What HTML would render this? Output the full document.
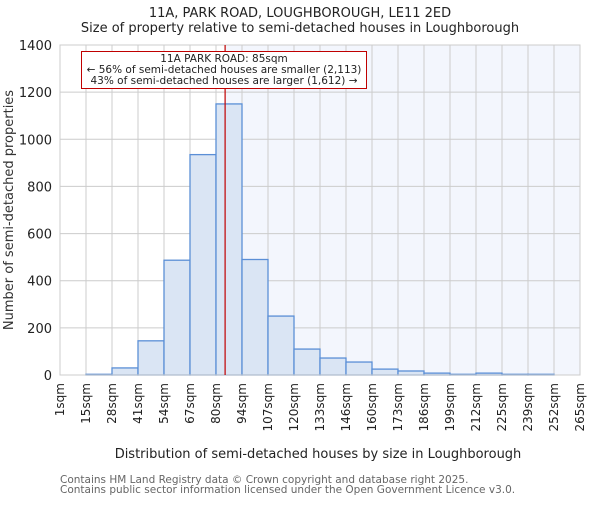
<!DOCTYPE html>
<html><head><meta charset="utf-8"><style>
body{margin:0;background:#fff}
svg{font-family:"DejaVu Sans","Liberation Sans",sans-serif}
</style></head><body>
<svg id="c" width="600" height="500"></svg>
<script>
const edgeLabels=["1sqm","15sqm","28sqm","41sqm","54sqm","67sqm","80sqm","94sqm","107sqm","120sqm","133sqm","146sqm","160sqm","173sqm","186sqm","199sqm","212sqm","225sqm","239sqm","252sqm","265sqm"];
const counts=[0,3,30,145,487,935,1150,490,250,110,72,55,25,17,8,3,8,3,3,0];
const yTicks=[0,200,400,600,800,1000,1200,1400];
const propertyBinPos=6.35;
const L=60,R=580,T=45,B=375,yMax=1400;
const n=counts.length,bw=(R-L)/n;
const xs=i=>L+i*bw, ys=v=>B-(v/yMax)*(B-T);
const svg=document.getElementById('c');
function el(t,a,p){const e=document.createElementNS('http://www.w3.org/2000/svg',t);for(const k in a)e.setAttribute(k,a[k]);(p||svg).appendChild(e);return e;}
function tx(x,y,s,a){const e=el('text',Object.assign({x:x,y:y},a));e.textContent=s;return e;}
let t=tx(300,17,"11A, PARK ROAD, LOUGHBOROUGH, LE11 2ED",{'text-anchor':'middle','font-size':13,fill:'#222'});

t=tx(300,32,"Size of property relative to semi-detached houses in Loughborough",{'text-anchor':'middle','font-size':13,fill:'#222'});

const px=xs(propertyBinPos);
let r=el('rect',{x:px,y:T,width:R-px,height:B-T,fill:'#f3f6fd'});

for(let i=0;i<=n;i++){const g=el('line',{x1:xs(i),x2:xs(i),y1:T,y2:B,stroke:'#cccccc','stroke-width':1});
}
yTicks.forEach(v=>{const g=el('line',{x1:L,x2:R,y1:ys(v),y2:ys(v),stroke:'#cccccc','stroke-width':1});

const l=tx(L-8,ys(v)+5,String(v),{'text-anchor':'end','font-size':13,fill:'#222'});
});
counts.forEach((v,i)=>{if(v<=0)return;const b=el('rect',{x:xs(i),y:ys(v),width:bw,height:B-ys(v),fill:'#dae5f4',stroke:'#5b8fd6','stroke-width':1.3});
});
r=el('rect',{x:L,y:T,width:R-L,height:B-T,fill:'none',stroke:'#cccccc','stroke-width':1});

edgeLabels.forEach((s,i)=>{const l=tx(0,0,s,{'text-anchor':'end','font-size':12,fill:'#222',transform:`translate(${xs(i)+4},${B+8}) rotate(-90)`});
});
const ln=el('line',{x1:px,x2:px,y1:T,y2:B,stroke:'#c00000','stroke-width':1.2});

const box=el('rect',{x:81.5,y:51.5,width:285,height:37,fill:'#fff',stroke:'#c00000','stroke-width':1});

[["11A PARK ROAD: 85sqm",62],["← 56% of semi-detached houses are smaller (2,113)",73],["43% of semi-detached houses are larger (1,612) →",84]].forEach(a=>{
const l=tx(224,a[1],a[0],{'text-anchor':'middle','font-size':10.5,fill:'#222'});
});
t=tx(0,0,"Number of semi-detached properties",{'text-anchor':'middle','font-size':13,fill:'#333',transform:'translate(13,210) rotate(-90)'});

t=tx(318,458,"Distribution of semi-detached houses by size in Loughborough",{'text-anchor':'middle','font-size':13,fill:'#222'});

t=tx(60,483,"Contains HM Land Registry data © Crown copyright and database right 2025.",{'font-size':10.5,fill:'#666'});

t=tx(60,493,"Contains public sector information licensed under the Open Government Licence v3.0.",{'font-size':10.5,fill:'#666'});

</script>
</body></html>
